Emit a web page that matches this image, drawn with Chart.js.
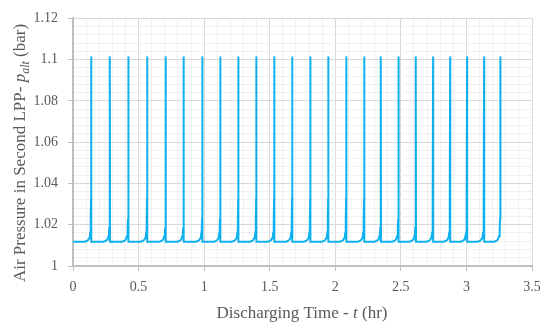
<!DOCTYPE html>
<html><head><meta charset="utf-8">
<script src="https://cdn.jsdelivr.net/npm/chart.js@4/dist/chart.umd.min.js"></script>
<style>html,body{margin:0;padding:0;background:#fff}</style>
</head><body>
<canvas id="c" width="550" height="335"></canvas>
<script>
// Times (hr) of the pressure spikes
const spikeTimes = [0.139,0.282,0.423,0.566,0.708,0.845,0.987,1.124,1.261,1.398,1.535,1.672,1.810,1.947,2.084,2.221,2.348,2.483,2.615,2.746,2.876,3.005,3.135,3.260];
// Baseline and peak pressures (bar)
const baselinePressure = 1.0117;
const peakPressure = 1.1015;
// Shape of the rise just before each spike (offset in hr before spike, pressure in bar)
const rampOffsets   = [-0.070,-0.052,-0.040,-0.030,-0.022,-0.016,-0.011,-0.0075,-0.005,-0.003,-0.0015];
const rampPressures = [1.0117,1.0118,1.0120,1.0123,1.0128,1.0135,1.0146,1.0162,1.0185,1.0230,1.0330];
const dropOffset = 0.0006;
// Tick labels
const xTickLabels = ['0','0.5','1','1.5','2','2.5','3','3.5'];
const yTickLabels = ['1','1.02','1.04','1.06','1.08','1.1','1.12'];

// Build the point table from the read values
const points = [{x:0, y:baselinePressure}];
spikeTimes.forEach((ts, i) => {
  rampOffsets.forEach((o, k) => points.push({x: ts + o, y: rampPressures[k]}));
  points.push({x: ts, y: peakPressure});
  if (i < spikeTimes.length - 1) points.push({x: ts + dropOffset, y: baselinePressure});
});

const isMajorX = v => Math.abs(v*2 - Math.round(v*2)) < 1e-6;
const isMajorY = v => Math.abs((v-1)/0.02 - Math.round((v-1)/0.02)) < 1e-6;
const TXT = '#595959';
const FONT = 'Liberation Serif';

const titlePlugin = {
  id: 'titles',
  afterDraw(chart) {
    const ctx = chart.ctx;
    const drawPieces = (pieces) => {
      let w = 0;
      pieces.forEach(p => { ctx.font = p.f; w += ctx.measureText(p.t).width; });
      let x = -w/2;
      pieces.forEach(p => { ctx.font = p.f; ctx.fillText(p.t, x, p.dy || 0); x += ctx.measureText(p.t).width; });
    };
    ctx.save();
    ctx.fillStyle = TXT;
    ctx.textBaseline = 'alphabetic';
    ctx.textAlign = 'left';
    // y title
    ctx.save();
    ctx.translate(25, 153);
    ctx.rotate(-Math.PI/2);
    drawPieces([
      {t:'Air Pressure in Second LPP- ', f:`17px "${FONT}"`},
      {t:'p', f:`italic 17px "${FONT}"`},
      {t:'alt', f:`italic 12px "${FONT}"`, dy:4},
      {t:' (bar)', f:`17px "${FONT}"`}
    ]);
    ctx.restore();
    // x title
    ctx.save();
    ctx.translate(302, 318);
    drawPieces([
      {t:'Discharging Time - ', f:`17px "${FONT}"`},
      {t:'t', f:`italic 17px "${FONT}"`},
      {t:' (hr)', f:`17px "${FONT}"`}
    ]);
    ctx.restore();
    ctx.restore();
  }
};

new Chart(document.getElementById('c'), {
  type: 'line',
  data: { datasets: [{
    data: points,
    borderColor: '#0fb0ee',
    borderWidth: 2,
    pointRadius: 0,
    tension: 0,
    fill: false
  }]},
  options: {
    responsive: false,
    animation: false,
    layout: { padding: { top: 16, right: 18, left: 0, bottom: 0 } },
    plugins: { legend: { display: false }, tooltip: { enabled: false } },
    scales: {
      x: {
        type: 'linear', min: 0, max: 3.5,
        afterFit(s) { s.height = 69; },
        ticks: {
          stepSize: 0.1, autoSkip: false, maxRotation: 0, minRotation: 0, padding: 8,
          color: TXT, font: { family: FONT, size: 14 },
          callback: v => isMajorX(v) ? xTickLabels[Math.round(v*2)] : ''
        },
        grid: {
          color: c => (c.tick && isMajorX(c.tick.value)) ? '#d9d9d9' : '#f0f0f0',
          tickColor: c => (c.tick && isMajorX(c.tick.value)) ? '#bfbfbf' : 'rgba(0,0,0,0)',
          tickLength: 5, lineWidth: 1
        },
        border: { color: '#bfbfbf', width: 2 }
      },
      y: {
        type: 'linear', min: 1, max: 1.12,
        afterFit(s) { s.width = 73; },
        ticks: {
          stepSize: 0.004, autoSkip: false, padding: 10,
          color: TXT, font: { family: FONT, size: 14 },
          callback: v => isMajorY(v) ? yTickLabels[Math.round((v-1)/0.02)] : ''
        },
        grid: {
          color: c => (c.tick && isMajorY(c.tick.value)) ? '#d9d9d9' : '#f0f0f0',
          tickColor: c => (c.tick && isMajorY(c.tick.value)) ? '#bfbfbf' : 'rgba(0,0,0,0)',
          tickLength: 5, lineWidth: 1
        },
        border: { color: '#bfbfbf', width: 2 }
      }
    }
  },
  plugins: [titlePlugin]
});
</script>
</body></html>
